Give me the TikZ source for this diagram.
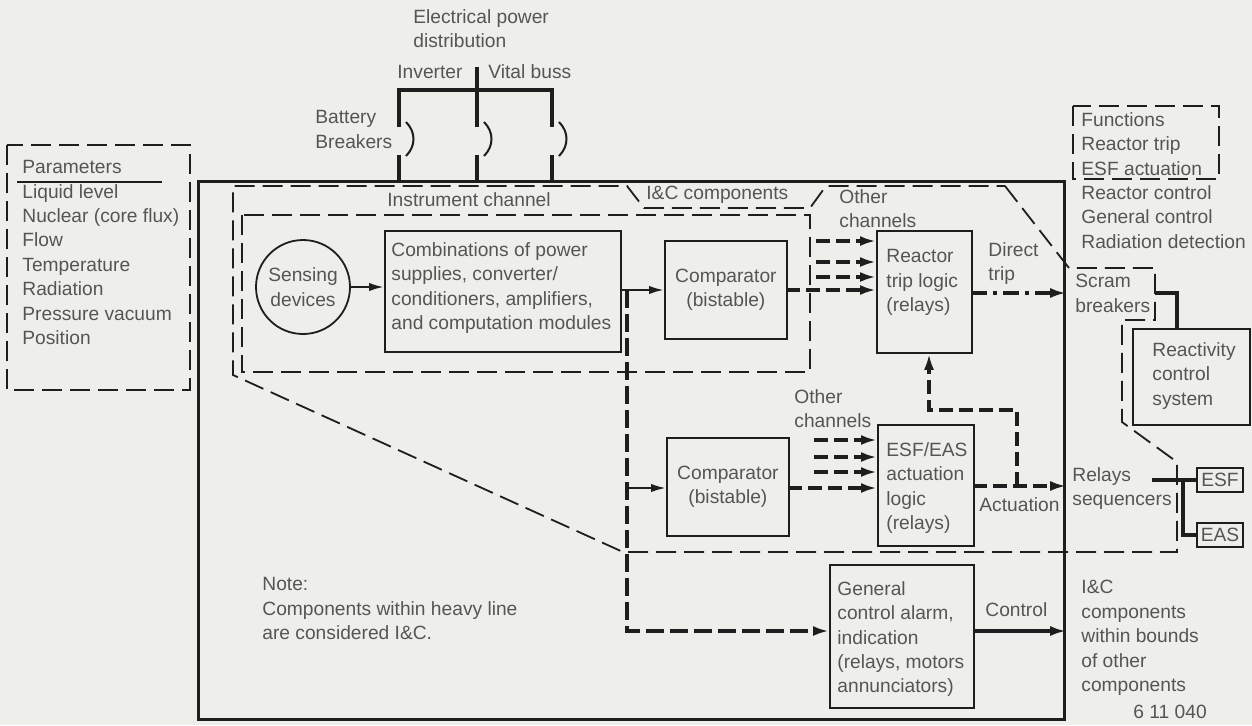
\documentclass[tikz,border=0pt]{standalone}
\usepackage{fontspec}
\setmainfont{Liberation Sans}
\usetikzlibrary{arrows.meta,calc}
\definecolor{bg}{RGB}{238,238,234}
\definecolor{ink}{RGB}{30,30,30}
\definecolor{txtc}{RGB}{85,85,85}
\begin{document}
\begin{tikzpicture}[x=0.5pt,y=-0.5pt,
  every node/.style={font=\fontsize{9.6}{12.2}\selectfont, text=txtc},
  lbl/.style={inner sep=0, align=left},
  box/.style={draw=ink, line width=0.9pt, inner sep=0, rectangle},
  bound/.style={draw=ink, line width=0.9pt, dash pattern=on 10pt off 4pt},
  heavy/.style={draw=ink, line width=1.6pt},
  hdash/.style={draw=ink, line width=1.8pt, dash pattern=on 7pt off 3pt},
  ddot/.style={draw=ink, line width=1.8pt, dash pattern=on 8pt off 3pt on 2pt off 3pt},
  arr/.style={-{Latex[length=8pt,width=5pt]}},
  tarr/.style={-{Latex[length=7.5pt,width=4.2pt]}},
  thin/.style={draw=ink, line width=1.1pt},
]
\fill[bg] (0,0) rectangle (1252,725);
\useasboundingbox (0,0) rectangle (1252,725);

% heavy I&C boundary
\node[heavy, anchor=north west, minimum width=433pt, minimum height=269pt, inner sep=0] (ic) at (197,180) {};

% power distribution
\node[lbl, anchor=north west] (epd) at (413,9) {Electrical power\\distribution};
\node[lbl, anchor=west] (inv) at (397,72) {Inverter};
\node[lbl, anchor=west] (vital) at (488,72) {Vital buss};
\node[lbl, anchor=north west] (batt) at (315,110) {Battery\\Breakers};
\coordinate (bt) at (477,67);
\draw[heavy] (bt) -- (477,127);
\draw[heavy] (399,127) -- (399,90) -- (552,90) -- (552,127);
\foreach \x in {399,477,552}{
  \draw[heavy] (\x,155) -- (\x,180);
  \draw[ink, line width=1pt] ({\x+7},122) .. controls ({\x+17},132) and ({\x+17},146) .. ({\x+7},156);
}

% parameters
\draw[bound] (7,145) rectangle (190,390);
\node[lbl, anchor=north west] (params) at (22,160) {Parameters\\Liquid level\\Nuclear (core flux)\\Flow\\Temperature\\Radiation\\Pressure vacuum\\Position};
\draw[thin] (17,182) -- (162,182);

% functions
\draw[bound] (1073,106) rectangle (1219,179);
\node[lbl, anchor=north west] (funcs) at (1081,112) {Functions\\Reactor trip\\ESF actuation\\Reactor control\\General control\\Radiation detection};

% I&C components boundary
\draw[bound] (1005,186) -- (1069,268) -- (1155,268) -- (1155,320) -- (1122,320) -- (1122,422) -- (1177,462) -- (1177,552) -- (623,552) -- (233,375) -- (233,186) -- (627,186) -- (644,208) -- (810,208) -- (826,186) -- cycle;
\node[lbl, anchor=west] (icc) at (646,195) {I\&C components};
% instrument channel
\draw[bound] (242,215) rectangle (810,372);
\node[lbl, anchor=west] (inst) at (387,200) {Instrument channel};

% blocks
\node[draw=ink, line width=0.9pt, circle, minimum size=47pt, inner sep=0, align=center] (sens) at (303,287) {Sensing\\devices};
\node[box, anchor=north west, minimum width=118pt, minimum height=60.5pt] (comb) at (384,230) {};
\node[lbl, anchor=north west] (combt) at (391,242) {Combinations of power\\supplies, converter/\\conditioners, amplifiers,\\and computation modules};
\node[box, anchor=north west, minimum width=61pt, minimum height=49pt, align=center] (cmp1) at (664,240) {Comparator\\(bistable)};
\node[box, anchor=north west, minimum width=61pt, minimum height=49pt, align=center] (cmp2) at (666,437) {Comparator\\(bistable)};
\node[box, anchor=north west, minimum width=47.5pt, minimum height=61pt] (rtl) at (876,230) {};
\node[lbl, anchor=north west] (rtlt) at (886,249) {Reactor\\trip logic\\(relays)};
\node[box, anchor=north west, minimum width=48pt, minimum height=60.5pt] (esf) at (877,424) {};
\node[lbl, anchor=north west] (esft) at (886,442) {ESF/EAS\\actuation\\logic\\(relays)};
\node[box, anchor=north west, minimum width=72pt, minimum height=71.5pt] (gen) at (829,564) {};
\node[lbl, anchor=north west] (gent) at (837,581) {General\\control alarm,\\indication\\(relays, motors\\annunciators)};

% sensing -> combinations -> comparators
\draw[thin, tarr] (sens.east) -- (sens.east -| comb.west);
\coordinate (j1) at (627,290);
\coordinate (j2) at (627,488);
\coordinate (j3) at (627,631);
\draw[thin] (comb.east |- j1) -- (j1);
\draw[thin, tarr] (j1) -- (j1 -| cmp1.west);
\draw[hdash, dash pattern=on 9pt off 3pt, arr] (j1) -- (j3) -- (j3 -| gen.west);
\draw[thin, tarr] (j2) -- (j2 -| cmp2.west);

% into reactor trip logic
\node[lbl, anchor=north west] (oc1t) at (839,189) {Other\\channels};
\foreach \y/\n in {241/a,262/b,277/c}{
  \coordinate (oc\n) at (816,\y);
  \draw[hdash, arr] (oc\n) -- (oc\n -| rtl.west);
}
\coordinate (c1o) at (786,290);
\draw[hdash, arr] (c1o) -- (c1o -| rtl.west);

% into ESF/EAS logic
\node[lbl, anchor=north west] (oc2t) at (794,389) {Other\\channels};
\foreach \y/\n in {440/d,457/e,472/f}{
  \coordinate (oc\n) at (814,\y);
  \draw[hdash, arr] (oc\n) -- (oc\n -| esf.west);
}
\coordinate (c2o) at (788,488);
\draw[hdash, arr] (c2o) -- (c2o -| esf.west);

% outputs
\coordinate (dt) at (971,293);
\draw[ddot, arr] (dt) -- (dt -| ic.east);
\node[lbl, anchor=north west] (dtt) at (988,242) {Direct\\trip};
\coordinate (ac) at (973,486);
\draw[hdash, arr] (ac) -- (ac -| ic.east);
\node[lbl, anchor=west] (act) at (979,505) {Actuation};
\coordinate (fb0) at (1017,486);
\coordinate (fb1) at (1017,410);
\coordinate (fb2) at (929,410);
\draw[hdash, arr] (fb0) -- (fb1) -- (fb2) -- (fb2 |- rtl.south);
\draw[heavy, arr] (j3 -| gen.east) -- (j3 -| ic.east);
\node[lbl, anchor=west] (ctl) at (985,610) {Control};

% right side components
\node[lbl, anchor=north west] (scram) at (1075,274) {Scram\\breakers};
\node[box, anchor=north west, minimum width=58.5pt, minimum height=48pt] (reac) at (1132,328) {};
\node[lbl, anchor=north west] (react) at (1152,342) {Reactivity\\control\\system};
\coordinate (sb) at (1155,293);
\coordinate (sb2) at (1177,293);
\draw[heavy] (sb) -- (sb2) -- (sb2 |- reac.north);
\node[lbl, anchor=north west] (relays) at (1072,467) {Relays\\sequencers};
\node[box, minimum width=23pt, minimum height=12pt] (esfb) at (1220,480) {ESF};
\node[box, minimum width=23pt, minimum height=12pt] (easb) at (1220,535) {EAS};
\coordinate (rs) at (1152,480);
\coordinate (rs2) at (1183,480);
\draw[heavy] (rs) -- (esfb.west);
\draw[heavy] (rs2) |- (easb.west);

\node[lbl, anchor=north west] (other) at (1081,580) {I\&C\\components\\within bounds\\of other\\components};
\node[lbl, anchor=west] (fig) at (1133,712) {6 11 040};
\node[lbl, anchor=north west] (note) at (262,577) {Note:\\Components within heavy line\\are considered I\&C.};
\end{tikzpicture}
\end{document}
